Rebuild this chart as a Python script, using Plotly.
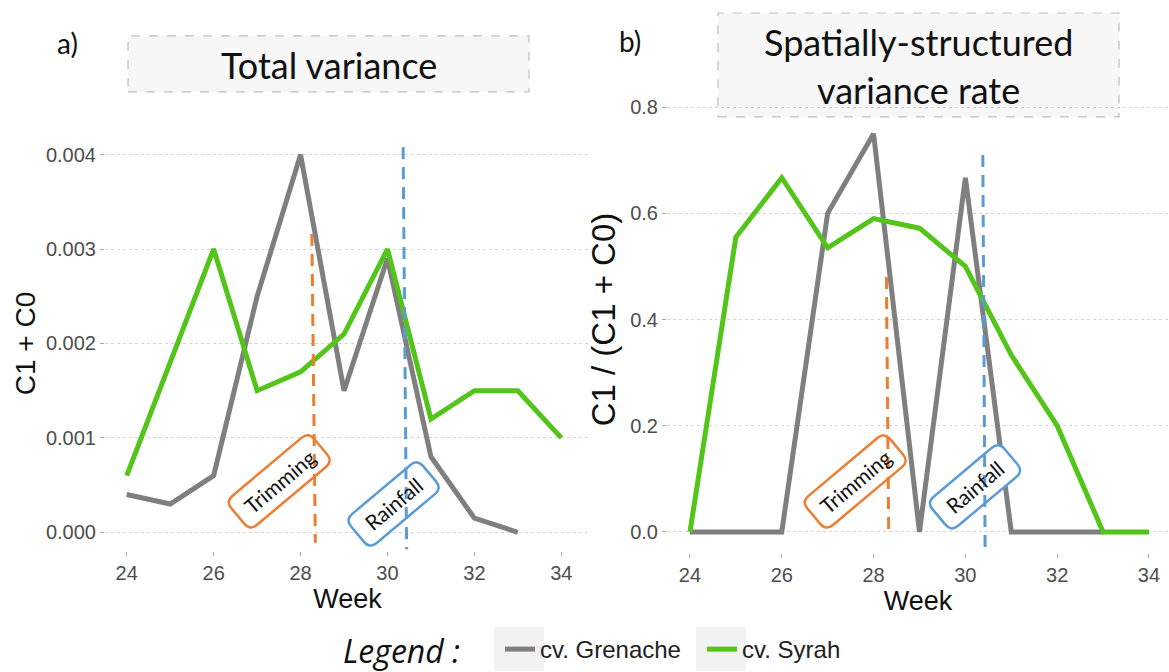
import math
import plotly.graph_objects as go

W, H = 1169, 672

# ---------------- data ----------------
weeks = [24, 25, 26, 27, 28, 29, 30, 31, 32, 33, 34]
grenache_total = [0.0004, 0.0003, 0.0006, 0.0025, 0.0040, 0.0015, 0.0029, 0.0008, 0.00015, 0.0, None]
syrah_total = [0.0006, 0.0018, 0.0030, 0.0015, 0.0017, 0.0021, 0.0030, 0.0012, 0.0015, 0.0015, 0.0010]
grenache_rate = [0.0, 0.0, 0.0, 0.60, 0.75, 0.0, 0.667, 0.0, 0.0, 0.0, None]
syrah_rate = [0.0, 0.555, 0.667, 0.535, 0.59, 0.572, 0.50, 0.333, 0.20, 0.0, 0.0]

series_names = ["cv. Grenache", "cv. Syrah"]
series_colors = ["#7f7f7f", "#52c41a"]

x_ticks = [24, 26, 28, 30, 32, 34]
total_ticks = [0.0, 0.001, 0.002, 0.003, 0.004]
rate_ticks = [0.0, 0.2, 0.4, 0.6, 0.8]

# events (dashed lines, slightly slanted as in the original drawing)
event_names = ["Trimming", "Rainfall"]
event_colors = ["#ed7d31", "#5b9bd5"]
event_week_top_total = [28.26, 30.36]
event_week_bottom_total = [28.34, 30.44]
event_top_total = [0.00316, 0.00408]
event_bottom_total = [-0.00011, -0.00018]
event_week_top_rate = [28.28, 30.38]
event_week_bottom_rate = [28.33, 30.43]
event_top_rate = [0.48, 0.71]
event_bottom_rate = [-0.005, -0.03]
label_week_total = [27.51, 30.14]
label_val_total = [0.00054, 0.0003]
label_week_rate = [27.6, 30.21]
label_val_rate = [0.095, 0.085]
label_box_len = [108, 94]

# ---------------- helpers ----------------
def px(x):
    return x / W

def py(y):
    return 1 - y / H

def rrect_path(L, T, r, ang):
    c, s = math.cos(math.radians(ang)), math.sin(math.radians(ang))
    def P(u, v):
        return "%.2f,%.2f" % (u * c - v * s, u * s + v * c)
    hu, hv = L / 2.0, T / 2.0
    return ("M" + P(-hu + r, -hv) + " L" + P(hu - r, -hv) + " Q" + P(hu, -hv) + " " + P(hu, -hv + r)
            + " L" + P(hu, hv - r) + " Q" + P(hu, hv) + " " + P(hu - r, hv)
            + " L" + P(-hu + r, hv) + " Q" + P(-hu, hv) + " " + P(-hu, hv - r)
            + " L" + P(-hu, -hv + r) + " Q" + P(-hu, -hv) + " " + P(-hu + r, -hv) + " Z")

fig = go.Figure()

for name, col, vals in zip(series_names, series_colors, [grenache_total, syrah_total]):
    fig.add_trace(go.Scatter(x=weeks, y=vals, mode="lines", name=name,
                             line=dict(color=col, width=5), xaxis="x", yaxis="y",
                             showlegend=True, legendgroup=name))
for name, col, vals in zip(series_names, series_colors, [grenache_rate, syrah_rate]):
    fig.add_trace(go.Scatter(x=weeks, y=vals, mode="lines", name=name,
                             line=dict(color=col, width=5), xaxis="x2", yaxis="y2",
                             showlegend=False, legendgroup=name))

tick_font = dict(family="Liberation Sans, Arial", size=20, color="#4d4d4d")

def tfont(size):
    return dict(family="Liberation Sans, Arial", size=size, color="#111111")

common_x = dict(tickvals=x_ticks, showgrid=False, zeroline=False, showline=False,
                ticks="outside", ticklen=4, tickcolor="#aaaaaa", tickfont=tick_font,
                title=dict(text="Week", font=tfont(27), standoff=3))
common_y = dict(showgrid=True, gridcolor="#d4d4d4", griddash="dot", gridwidth=1,
                zeroline=False, showline=False, ticks="outside", ticklen=4,
                tickcolor="#aaaaaa", tickfont=tick_font)

fig.update_layout(
    width=W, height=H,
    margin=dict(l=0, r=0, t=0, b=0),
    paper_bgcolor="white", plot_bgcolor="white",
    xaxis=dict(domain=[px(105), px(590)], range=[23.5, 34.66], anchor="y", **common_x),
    yaxis=dict(domain=[py(552), py(136)], range=[-0.0002, 0.0042], anchor="x",
               tickvals=total_ticks, tickformat=".3f",
               title=dict(text="C1 + C0", font=tfont(28), standoff=2), **common_y),
    xaxis2=dict(domain=[px(667), 1.0], range=[23.5, 34.436], anchor="y2", **common_x),
    yaxis2=dict(domain=[py(554), py(86)], range=[-0.04, 0.84], anchor="x2",
                tickvals=rate_ticks, tickformat=".1f",
                title=dict(text="C1 / (C1 + C0)", font=tfont(33), standoff=4), **common_y),
    legend=dict(orientation="h", x=px(500), y=py(650), xanchor="left", yanchor="middle",
                font=dict(family="Liberation Sans, Arial", size=24, color="#222222"),
                bgcolor="rgba(0,0,0,0)", entrywidth=157, entrywidthmode="pixels"),
    showlegend=True,
)

shapes = []
# title boxes
shapes.append(dict(type="rect", xref="paper", yref="paper", x0=px(128), x1=px(529), y0=py(92), y1=py(36),
                   line=dict(color="#bdbdbd", width=1.2, dash="dash"), fillcolor="#f7f7f7", layer="below"))
shapes.append(dict(type="rect", xref="paper", yref="paper", x0=px(718), x1=px(1119), y0=py(117), y1=py(13),
                   line=dict(color="#bdbdbd", width=1.2, dash="dash"), fillcolor="#f7f7f7", layer="below"))
# legend key backgrounds
for cx in [519, 721]:
    shapes.append(dict(type="rect", xref="paper", yref="paper", x0=px(cx - 25), x1=px(cx + 25),
                       y0=py(672), y1=py(628), line=dict(width=0), fillcolor="#f2f2f2", layer="below"))
# rounded label boxes
for i in range(2):
    for xr, yr, xa, ya in [("x", "y", label_week_total[i], label_val_total[i]),
                           ("x2", "y2", label_week_rate[i], label_val_rate[i])]:
        shapes.append(dict(type="path", xref=xr, yref=yr, xsizemode="pixel", ysizemode="pixel",
                           xanchor=xa, yanchor=ya, path=rrect_path(label_box_len[i], 38, 9, 40),
                           line=dict(color=event_colors[i], width=2.5), fillcolor="white",
                           layer="above"))
# event lines
for i in range(2):
    shapes.append(dict(type="line", xref="x", yref="y",
                       x0=event_week_top_total[i], y0=event_top_total[i],
                       x1=event_week_bottom_total[i], y1=event_bottom_total[i],
                       line=dict(color=event_colors[i], width=3, dash="12px,8px")))
    shapes.append(dict(type="line", xref="x2", yref="y2",
                       x0=event_week_top_rate[i], y0=event_top_rate[i],
                       x1=event_week_bottom_rate[i], y1=event_bottom_rate[i],
                       line=dict(color=event_colors[i], width=3, dash="12px,8px")))
fig.update_layout(shapes=shapes)

ann = []
label_font = dict(family="Lato, Open Sans", size=36, color="#111111")
ann.append(dict(xref="paper", yref="paper", x=px(329), y=py(65), text="Total variance",
                showarrow=False, font=label_font, xanchor="center", yanchor="middle"))
ann.append(dict(xref="paper", yref="paper", x=px(918), y=py(42), text="Spatially-structured",
                showarrow=False, font=label_font, xanchor="center", yanchor="middle"))
ann.append(dict(xref="paper", yref="paper", x=px(918), y=py(90), text="variance rate",
                showarrow=False, font=label_font, xanchor="center", yanchor="middle"))
ann.append(dict(xref="paper", yref="paper", x=px(67), y=py(43), text="a)",
                showarrow=False, font=dict(family="Lato", size=28, color="#111111"),
                xanchor="center", yanchor="middle"))
ann.append(dict(xref="paper", yref="paper", x=px(630), y=py(41), text="b)",
                showarrow=False, font=dict(family="Lato", size=28, color="#111111"),
                xanchor="center", yanchor="middle"))
ann.append(dict(xref="paper", yref="paper", x=px(401), y=py(651), text="<i>Legend :</i>",
                showarrow=False, font=dict(family="Open Sans", size=32, color="#111111"),
                xanchor="center", yanchor="middle"))
for i in range(2):
    ann.append(dict(xref="x", yref="y", x=label_week_total[i], y=label_val_total[i],
                    text=event_names[i], showarrow=False, textangle=-40,
                    font=dict(family="Lato", size=21, color="#111111")))
    ann.append(dict(xref="x2", yref="y2", x=label_week_rate[i], y=label_val_rate[i],
                    text=event_names[i], showarrow=False, textangle=-40,
                    font=dict(family="Lato", size=21, color="#111111")))
fig.update_layout(annotations=ann)

fig.write_html("out.html", config={"displayModeBar": False},
               post_script="document.body.style.margin='0';document.body.style.padding='0';")
